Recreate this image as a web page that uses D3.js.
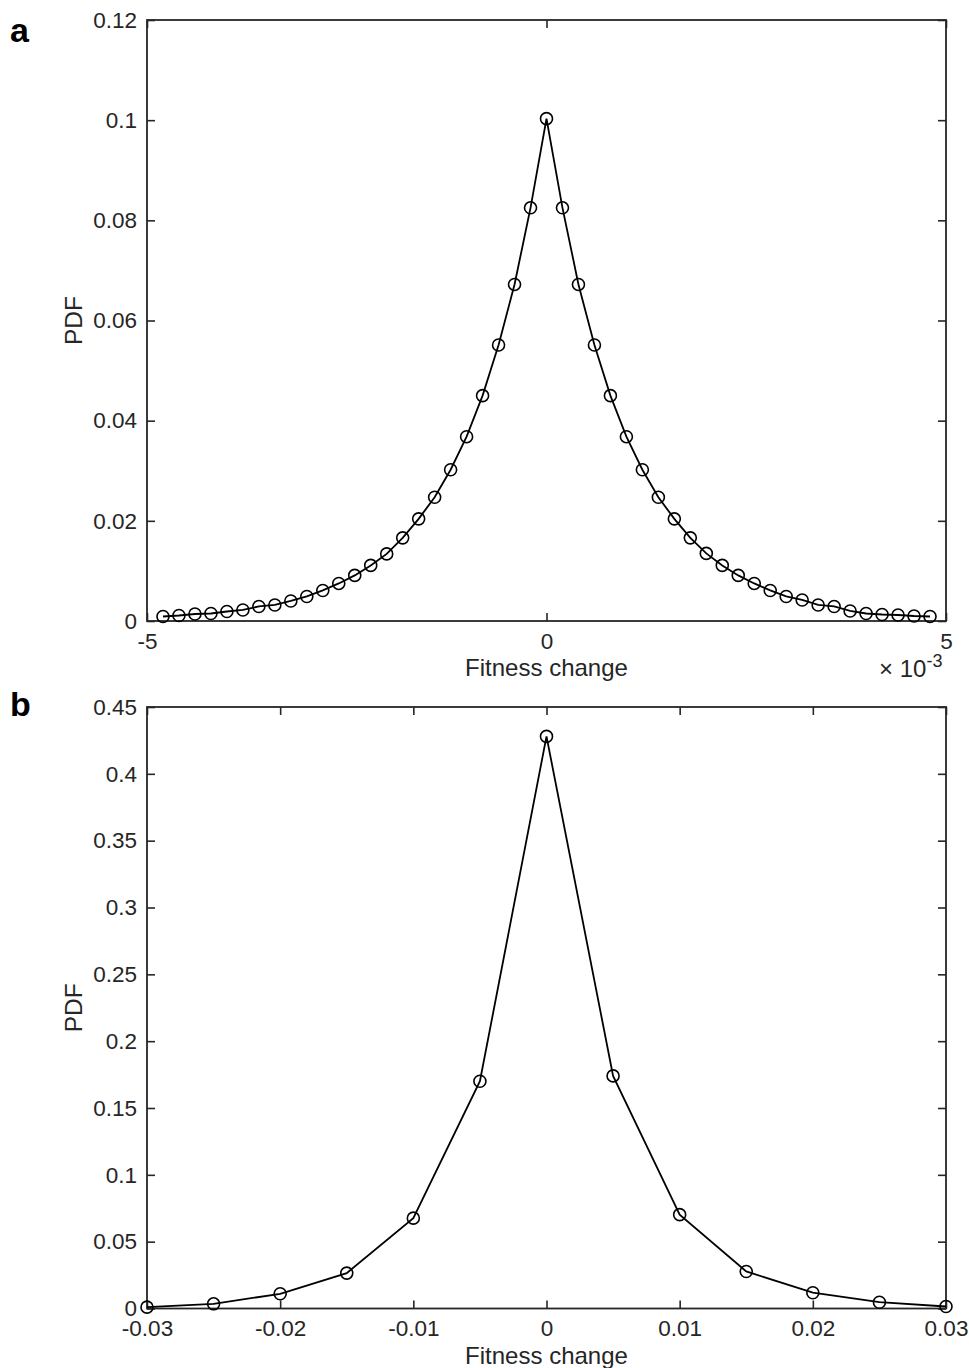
<!DOCTYPE html>
<html>
<head>
<meta charset="utf-8">
<script src="https://cdn.jsdelivr.net/npm/d3@7"></script>
<style>
  body { margin: 0; background: #fff; }
  svg text { font-family: "Liberation Sans", Arial, Helvetica, sans-serif; fill: #262626; }
</style>
</head>
<body>
<div id="chart"></div>
<script>
// Panel a: fitness change in units of 1e-3
const fitnessA = [-4.8, -4.6, -4.4, -4.2, -4.0, -3.8, -3.6, -3.4, -3.2, -3.0, -2.8, -2.6, -2.4,
    -2.2, -2.0, -1.8, -1.6, -1.4, -1.2, -1.0, -0.8, -0.6, -0.4, -0.2, 0,
    0.2, 0.4, 0.6, 0.8, 1.0, 1.2, 1.4, 1.6, 1.8, 2.0, 2.2, 2.4, 2.6, 2.8, 3.0,
    3.2, 3.4, 3.6, 3.8, 4.0, 4.2, 4.4, 4.6, 4.8];
const pdfA = [0.0009, 0.0011, 0.0014, 0.0015, 0.0019, 0.0022, 0.0029, 0.0032, 0.0040, 0.0049,
    0.0061, 0.0075, 0.0091, 0.0111, 0.0134, 0.0166, 0.0204, 0.0247, 0.0302, 0.0368,
    0.0450, 0.0551, 0.0672, 0.0825, 0.1003,
    0.0825, 0.0672, 0.0551, 0.0450, 0.0368, 0.0302, 0.0247, 0.0204, 0.0166, 0.0135,
    0.0111, 0.0091, 0.0075, 0.0061, 0.0049, 0.0042, 0.0032, 0.0029, 0.0020, 0.0015,
    0.0013, 0.0012, 0.0010, 0.0009];
const xTicksA = [-5, 0, 5];
const yTicksA = [0, 0.02, 0.04, 0.06, 0.08, 0.1, 0.12];

// Panel b: fitness change
const fitnessB = [-0.03, -0.025, -0.02, -0.015, -0.01, -0.005, 0, 0.005, 0.01, 0.015, 0.02, 0.025, 0.03];
const pdfB = [0.001, 0.0035, 0.011, 0.0265, 0.0676, 0.170, 0.428, 0.174, 0.0702, 0.0277, 0.0118, 0.0047, 0.0015];
const xTicksB = [-0.03, -0.02, -0.01, 0, 0.01, 0.02, 0.03];
const yTicksB = [0, 0.05, 0.1, 0.15, 0.2, 0.25, 0.3, 0.35, 0.4, 0.45];

const W = 969, H = 1368;
const svg = d3.select('#chart').append('svg')
    .attr('width', W)
    .attr('height', H);

// plain hyphen minus like the original
const fmt = d => String(+d.toFixed(4)).replace('\u2212', '-');

function renderPanel(opts) {
    const { left, right, top, bottom } = opts;

    const x = d3.scaleLinear().domain(opts.xDomain).range([left, right]);
    const y = d3.scaleLinear().domain(opts.yDomain).range([bottom, top]);

    const g = svg.append('g');

    // axes, ticks pointing inward (box on)
    const axisStyle = sel => {
        sel.select('.domain').remove();
        sel.selectAll('line').attr('stroke', '#262626').attr('stroke-width', 1.6);
        sel.selectAll('text').style('font-size', '22.5px').attr('fill', '#262626');
    };

    g.append('g')
        .attr('transform', `translate(0,${bottom})`)
        .call(d3.axisBottom(x).tickValues(opts.xTicks).tickFormat(fmt).tickSize(-8).tickPadding(12))
        .call(axisStyle);
    g.append('g')
        .attr('transform', `translate(0,${top})`)
        .call(d3.axisTop(x).tickValues(opts.xTicks).tickFormat('').tickSize(-8))
        .call(axisStyle);
    g.append('g')
        .attr('transform', `translate(${left},0)`)
        .call(d3.axisLeft(y).tickValues(opts.yTicks).tickFormat(fmt).tickSize(-8).tickPadding(10))
        .call(axisStyle);
    g.append('g')
        .attr('transform', `translate(${right},0)`)
        .call(d3.axisRight(y).tickValues(opts.yTicks).tickFormat('').tickSize(-8))
        .call(axisStyle);

    // box
    g.append('rect')
        .attr('x', left)
        .attr('y', top)
        .attr('width', right - left)
        .attr('height', bottom - top)
        .attr('fill', 'none')
        .attr('stroke', '#262626')
        .attr('stroke-width', 1.8);

    // line + circle markers
    const pts = opts.xs.map((v, i) => [v, opts.ys[i]]);
    g.append('path')
        .datum(pts)
        .attr('fill', 'none')
        .attr('stroke', '#000')
        .attr('stroke-width', 1.8)
        .attr('d', d3.line().x(d => x(d[0])).y(d => y(d[1])));

    g.selectAll('circle.m')
        .data(pts)
        .enter()
        .append('circle')
        .attr('class', 'm')
        .attr('cx', d => x(d[0]))
        .attr('cy', d => y(d[1]))
        .attr('r', 6)
        .attr('fill', 'none')
        .attr('stroke', '#000')
        .attr('stroke-width', 1.6);

    // axis labels
    g.append('text')
        .attr('x', (left + right) / 2)
        .attr('y', opts.xLabelY)
        .attr('text-anchor', 'middle')
        .style('font-size', '24px')
        .text('Fitness change');

    g.append('text')
        .attr('transform', `translate(82,${(top + bottom) / 2}) rotate(-90)`)
        .attr('text-anchor', 'middle')
        .style('font-size', '24.5px')
        .text('PDF');

    // panel letter
    g.append('text')
        .attr('x', 10)
        .attr('y', opts.letterY)
        .style('font-size', '34px')
        .style('font-weight', 'bold')
        .style('fill', '#000')
        .text(opts.letter);

    return { x, y, g };
}

const pa = renderPanel({
    left: 147, right: 946, top: 20, bottom: 621,
    xDomain: [-5, 5], yDomain: [0, 0.12],
    xTicks: xTicksA, yTicks: yTicksA,
    xs: fitnessA, ys: pdfA,
    xLabelY: 675.5, letter: 'a', letterY: 42
});

// exponent label under the x axis of panel a
const expo = pa.g.append('text')
    .attr('x', 879)
    .attr('y', 677)
    .style('font-size', '24px');
expo.append('tspan').text('\u00d7 10');
expo.append('tspan')
    .attr('dy', -10)
    .style('font-size', '18px')
    .text('-3');

renderPanel({
    left: 147, right: 946, top: 707, bottom: 1308.5,
    xDomain: [-0.03, 0.03], yDomain: [0, 0.45],
    xTicks: xTicksB, yTicks: yTicksB,
    xs: fitnessB, ys: pdfB,
    xLabelY: 1363.5, letter: 'b', letterY: 716
});
</script>
</body>
</html>
